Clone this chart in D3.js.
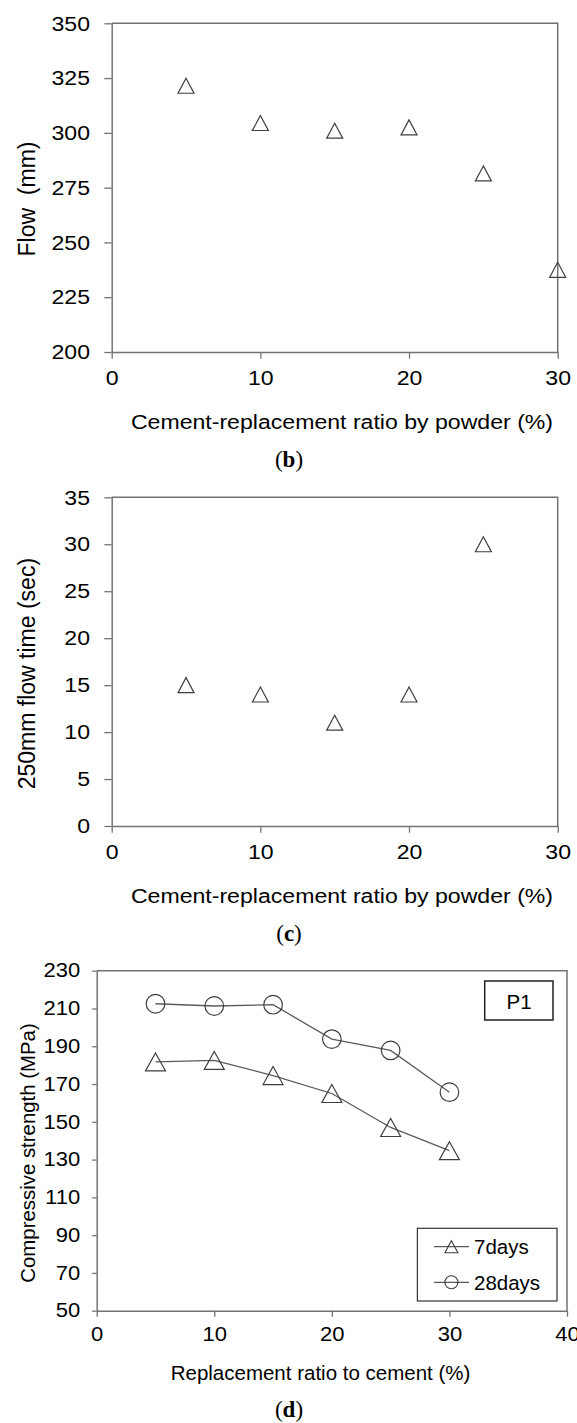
<!DOCTYPE html>
<html>
<head>
<meta charset="utf-8">
<script src="https://cdn.jsdelivr.net/npm/d3@7"></script>
<style>
  html, body { margin: 0; padding: 0; background: #fff; }
  svg { display: block; }
  text { font-family: "Liberation Sans", Arial, sans-serif; fill: #000; }
</style>
</head>
<body>
<svg id="fig" width="577" height="1423"></svg>
<script>
// ---- data ----
// (b) flow spread vs. cement-replacement ratio
const flowRatio = [5, 10, 15, 20, 25, 30];
const flowMm = [321.5, 304.5, 301, 302.5, 281.5, 237.5];
const flowTicks = [200, 225, 250, 275, 300, 325, 350];

// (c) time to reach a 250 mm flow
const timeRatio = [5, 10, 15, 20, 25];
const flowTimeSec = [15, 14, 11, 14, 30];
const timeTicks = [0, 5, 10, 15, 20, 25, 30, 35];

const powderXTicks = [0, 10, 20, 30];

// (d) compressive strength at 7 and 28 days
const strengthRatio = [5, 10, 15, 20, 25, 30];
const strength7days = [181.7, 182.5, 174.5, 165, 147, 134.7];
const strength28days = [212.5, 211.3, 212, 193.8, 187.8, 165.7];
const strengthTicks = [50, 70, 90, 110, 130, 150, 170, 190, 210, 230];
const strengthXTicks = [0, 10, 20, 30, 40];
const seriesNames = ["7days", "28days"];

const svg = d3.select("#fig");
const AXIS = "#737373";
const MARK = "#3f3f3f";

// widen horizontal text around its anchor point
function stretch(sel, sx) {
  sel.each(function () {
    const t = d3.select(this);
    const x = +t.attr("x") || 0;
    t.attr("transform", `translate(${x * (1 - sx)},0) scale(${sx},1)`);
  });
}

function trianglePath(w, h) {
  return `M0,${-h / 2}L${w / 2},${h / 2}L${-w / 2},${h / 2}Z`;
}

function frame(g, x, y, o) {
  const yAxis = g.append("g")
    .attr("transform", `translate(${o.left},0)`)
    .call(d3.axisLeft(y).tickValues(o.yTicks).tickSize(o.yTickLen).tickSizeOuter(0).tickPadding(o.yPad));
  const xAxis = g.append("g")
    .attr("transform", `translate(0,${o.bottom})`)
    .call(d3.axisBottom(x).tickValues(o.xTicks).tickSize(o.xTickLen).tickSizeOuter(0).tickPadding(o.xPad));
  [yAxis, xAxis].forEach(a => {
    a.select(".domain").attr("stroke", AXIS).attr("stroke-width", 1.5);
    a.selectAll(".tick line").attr("stroke", AXIS).attr("stroke-width", 1.3);
    a.selectAll(".tick text").attr("font-size", o.tickFont).style("font-family", "'Liberation Sans', Arial, sans-serif").attr("fill", "#000");
  });
  stretch(yAxis.selectAll(".tick text"), o.sx);
  stretch(xAxis.selectAll(".tick text"), o.sx);
  // top and right border of the plot box
  g.append("path")
    .attr("d", `M${o.left},${o.top}H${o.right}V${o.bottom}`)
    .attr("fill", "none").attr("stroke", AXIS).attr("stroke-width", 1.5);

  const xt = g.append("text")
    .attr("x", o.xTitleX).attr("y", o.xTitleY)
    .attr("text-anchor", "middle").attr("font-size", o.titleFont)
    .style("white-space", "pre")
    .text(o.xTitle);
  stretch(xt, o.titleSx);

  g.append("text")
    .attr("transform", `translate(${o.yTitleX},${o.yTitleY}) rotate(-90)`)
    .attr("text-anchor", "middle").attr("dominant-baseline", "central")
    .attr("font-size", o.yTitleFont)
    .style("white-space", "pre")
    .text(o.yTitle);

  const lab = g.append("text")
    .attr("x", o.tagX).attr("y", o.tagY)
    .attr("text-anchor", "middle")
    .style("font-family", "'Liberation Serif', 'Times New Roman', serif")
    .attr("font-size", 23);
  lab.append("tspan").text("(");
  lab.append("tspan").attr("font-weight", "bold").text(o.tag);
  lab.append("tspan").text(")");
}

function scatterPanel(o, xs, ys) {
  const g = svg.append("g");
  const x = d3.scaleLinear().domain(o.xDomain).range([o.left, o.right]);
  const y = d3.scaleLinear().domain(o.yDomain).range([o.bottom, o.top]);
  frame(g, x, y, o);
  g.append("g").selectAll("path")
    .data(xs.map((v, i) => [v, ys[i]]))
    .join("path")
    .attr("transform", d => `translate(${x(d[0])},${y(d[1])})`)
    .attr("d", trianglePath(16, 15))
    .attr("fill", "none").attr("stroke", MARK).attr("stroke-width", 1.2);
}

const bcBase = {
  left: 111.7, right: 557.7,
  xDomain: [0, 30], xTicks: powderXTicks,
  yTickLen: 7.4, yPad: 14.3, xTickLen: 6.7, xPad: 11.5,
  tickFont: 21, titleFont: 21, yTitleFont: 23, sx: 1.1, titleSx: 1.1,
  xTitle: "Cement-replacement ratio by powder (%)", xTitleX: 342,
  yTitleX: 27, tagX: 289
};

// (b)
scatterPanel(Object.assign({}, bcBase, {
  top: 23.3, bottom: 352, yDomain: [200, 350], yTicks: flowTicks,
  xTitleY: 429, yTitle: "Flow  (mm)", yTitleY: 199, tag: "b", tagY: 467
}), flowRatio, flowMm);

// (c)
scatterPanel(Object.assign({}, bcBase, {
  top: 497.3, bottom: 826, yDomain: [0, 35], yTicks: timeTicks,
  xTitleY: 903, yTitle: "250mm flow time (sec)", yTitleY: 673.6, tag: "c", tagY: 941
}), timeRatio, flowTimeSec);

// (d)
(function () {
  const o = {
    left: 96.7, right: 567, top: 970.7, bottom: 1310.7,
    xDomain: [0, 40], yDomain: [50, 230],
    xTicks: strengthXTicks, yTicks: strengthTicks,
    yTickLen: 4.5, yPad: 12, xTickLen: 6, xPad: 10.5,
    tickFont: 19.5, titleFont: 20.5, yTitleFont: 20.4, sx: 1.13, titleSx: 1.0,
    xTitle: "Replacement ratio to cement (%)", xTitleX: 320.5, xTitleY: 1380,
    yTitle: "Compressive strength (MPa)", yTitleX: 27.7, yTitleY: 1153,
    tag: "d", tagX: 289, tagY: 1417
  };
  const g = svg.append("g");
  const x = d3.scaleLinear().domain(o.xDomain).range([o.left, o.right]);
  const y = d3.scaleLinear().domain(o.yDomain).range([o.bottom, o.top]);
  frame(g, x, y, o);

  const series = [strength7days, strength28days];
  const line = d3.line().x((d, i) => x(strengthRatio[i])).y(d => y(d));
  series.forEach((vals, s) => {
    g.append("path").attr("d", line(vals))
      .attr("fill", "none").attr("stroke", "#5a5a5a").attr("stroke-width", 1.3);
    const m = g.append("g").selectAll("path")
      .data(vals.map((v, i) => [strengthRatio[i], v]))
      .join("path")
      .attr("transform", d => `translate(${x(d[0])},${y(d[1])})`)
      .attr("fill", "none").attr("stroke", MARK).attr("stroke-width", 1.2);
    if (s === 0) m.attr("d", trianglePath(20, 18));
    else m.attr("d", d3.arc()({ innerRadius: 0, outerRadius: 9.3, startAngle: 0, endAngle: 2 * Math.PI }));
  });

  // sample label box
  g.append("rect").attr("x", 484.7).attr("y", 981).attr("width", 68.3).attr("height", 39)
    .attr("fill", "#fff").attr("stroke", "#222").attr("stroke-width", 1.5);
  g.append("text").attr("x", 519).attr("y", 1001.7).attr("text-anchor", "middle")
    .attr("dominant-baseline", "central").attr("font-size", 20.5).text("P1");

  // legend
  g.append("rect").attr("x", 417.4).attr("y", 1228.3).attr("width", 139.6).attr("height", 72.7)
    .attr("fill", "#fff").attr("stroke", "#333").attr("stroke-width", 1.2);
  const rowY = [1246.7, 1282.3];
  seriesNames.forEach((name, s) => {
    const ly = rowY[s];
    g.append("line").attr("x1", 434).attr("x2", 469).attr("y1", ly).attr("y2", ly)
      .attr("stroke", "#5a5a5a").attr("stroke-width", 1.3);
    g.append("path").attr("transform", `translate(451.4,${ly})`)
      .attr("d", s === 0 ? trianglePath(13, 12)
        : d3.arc()({ innerRadius: 0, outerRadius: 6.5, startAngle: 0, endAngle: 2 * Math.PI }))
      .attr("fill", "none").attr("stroke", MARK).attr("stroke-width", 1.1);
    g.append("text").attr("x", 474).attr("y", ly).attr("dominant-baseline", "central")
      .attr("font-size", 20.5).text(name);
  });
})();
</script>
</body>
</html>
